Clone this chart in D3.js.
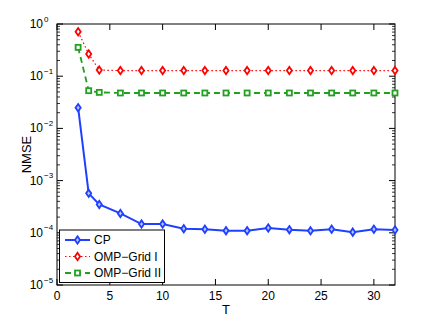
<!DOCTYPE html>
<html>
<head>
<meta charset="utf-8">
<script src="https://cdn.jsdelivr.net/npm/d3@7"></script>
<style>
  body { margin: 0; background: #fff; }
  text { font-family: "Liberation Sans", Arial, sans-serif; fill: #000; }
</style>
</head>
<body>
<svg id="chart" width="436" height="321"></svg>
<script>
const T = [2, 3, 4, 6, 8, 10, 12, 14, 16, 18, 20, 22, 24, 26, 28, 30, 32]
const cp = [0.0249, 5.7e-4, 3.5e-4, 2.35e-4, 1.47e-4, 1.47e-4, 1.2e-4, 1.17e-4, 1.1e-4, 1.1e-4, 1.24e-4, 1.15e-4, 1.09e-4, 1.17e-4, 1.03e-4, 1.17e-4, 1.13e-4]
const gridI = [0.71, 0.266, 0.131, 0.128, 0.128, 0.128, 0.128, 0.128, 0.128, 0.128, 0.128, 0.128, 0.128, 0.128, 0.128, 0.128, 0.128]
const gridII = [0.357, 0.0528, 0.049, 0.0477, 0.0477, 0.0477, 0.0477, 0.0477, 0.0477, 0.0477, 0.0477, 0.0477, 0.0477, 0.0477, 0.0477, 0.0477, 0.0477]
const xTicks = [0, 5, 10, 15, 20, 25, 30]
const yExponents = [0, -1, -2, -3, -4, -5]

const series = [
  { name: 'CP', values: cp, color: '#2040ff', dash: null, width: 2, marker: 'diamond', fillCenter: '#b8c4ff' },
  { name: 'OMP\u2212Grid I', values: gridI, color: '#ff0000', dash: '1.5,2.5', width: 1.2, marker: 'diamond', fillCenter: '#fff' },
  { name: 'OMP\u2212Grid II', values: gridII, color: '#22a020', dash: '6,4', width: 1.8, marker: 'square', fillCenter: '#fff' }
]

const margin = { left: 57, right: 41, top: 24, bottom: 36 }
const W = 436, H = 321
const svg = d3.select('#chart')

const x = d3.scaleLinear().domain([0, 32]).range([margin.left, W - margin.right])
const y = d3.scaleLog().domain([1e-5, 1]).range([H - margin.bottom, margin.top])

// minor log ticks on left and right
const minor = []
for (let e = -5; e < 0; e++) {
  for (let k = 2; k <= 9; k++) minor.push(k * Math.pow(10, e))
}
const axes = svg.append('g')
minor.forEach(v => {
  axes.append('line').attr('x1', x(0)).attr('x2', x(0) + 3).attr('y1', y(v)).attr('y2', y(v)).attr('stroke', '#000').attr('stroke-width', 0.8)
  axes.append('line').attr('x1', x(32)).attr('x2', x(32) - 3).attr('y1', y(v)).attr('y2', y(v)).attr('stroke', '#000').attr('stroke-width', 0.8)
})
yExponents.forEach(e => {
  const v = Math.pow(10, e)
  axes.append('line').attr('x1', x(0)).attr('x2', x(0) + 6).attr('y1', y(v)).attr('y2', y(v)).attr('stroke', '#000')
  axes.append('line').attr('x1', x(32)).attr('x2', x(32) - 6).attr('y1', y(v)).attr('y2', y(v)).attr('stroke', '#000')
  axes.append('text').attr('x', 43).attr('y', y(v) + 4).attr('text-anchor', 'end').attr('font-size', 12).text('10')
  axes.append('text').attr('x', 44).attr('y', y(v) - 2.5).attr('font-size', 8).text(e === 0 ? '0' : '\u2212' + (-e))
})
xTicks.forEach(v => {
  axes.append('line').attr('x1', x(v)).attr('x2', x(v)).attr('y1', y(1e-5)).attr('y2', y(1e-5) - 6).attr('stroke', '#000')
  axes.append('line').attr('x1', x(v)).attr('x2', x(v)).attr('y1', y(1)).attr('y2', y(1) + 6).attr('stroke', '#000')
  axes.append('text').attr('x', x(v)).attr('y', y(1e-5) + 15).attr('text-anchor', 'middle').attr('font-size', 12).text(v)
})
axes.append('rect')
  .attr('x', x(0)).attr('y', y(1)).attr('width', x(32) - x(0)).attr('height', y(1e-5) - y(1))
  .attr('fill', 'none').attr('stroke', '#000').attr('stroke-width', 1)

svg.append('text').attr('x', (x(0) + x(32)) / 2).attr('y', 314).attr('text-anchor', 'middle').attr('font-size', 13).text('T')
svg.append('text').attr('transform', `translate(31,${(y(1) + y(1e-5)) / 2}) rotate(-90)`)
  .attr('text-anchor', 'middle').attr('font-size', 13).text('NMSE')

function drawMarker (g, s, cx, cy) {
  if (s.marker === 'diamond') {
    const r = 3.2
    g.append('path')
      .attr('d', `M${cx},${cy - r * 1.15}L${cx + r * 0.8},${cy}L${cx},${cy + r * 1.15}L${cx - r * 0.8},${cy}Z`)
      .attr('fill', s.fillCenter).attr('stroke', s.color).attr('stroke-width', 1.8)
  } else {
    g.append('rect').attr('x', cx - 2.5).attr('y', cy - 2.5).attr('width', 5).attr('height', 5)
      .attr('fill', s.fillCenter).attr('stroke', s.color).attr('stroke-width', 1.8)
  }
}

const plot = svg.append('g')
series.forEach(s => {
  const line = d3.line().x((d, i) => x(T[i])).y(d => y(d))
  plot.append('path').datum(s.values).attr('d', line)
    .attr('fill', 'none').attr('stroke', s.color).attr('stroke-width', s.width)
    .attr('stroke-dasharray', s.dash)
  const g = plot.append('g')
  s.values.forEach((v, i) => drawMarker(g, s, x(T[i]), y(v)))
})

// legend
const lg = svg.append('g')
lg.append('rect').attr('x', 59.5).attr('y', 230).attr('width', 105).attr('height', 52.5)
  .attr('fill', '#fff').attr('stroke', '#000').attr('stroke-width', 1)
series.forEach((s, i) => {
  const ly = 240 + i * 16.5
  lg.append('line').attr('x1', 65).attr('x2', 90).attr('y1', ly).attr('y2', ly)
    .attr('stroke', s.color).attr('stroke-width', s.width).attr('stroke-dasharray', s.dash)
  drawMarker(lg, s, 77.5, ly)
  lg.append('text').attr('x', 94).attr('y', ly + 4).attr('font-size', 12).text(s.name)
})
</script>
</body>
</html>
